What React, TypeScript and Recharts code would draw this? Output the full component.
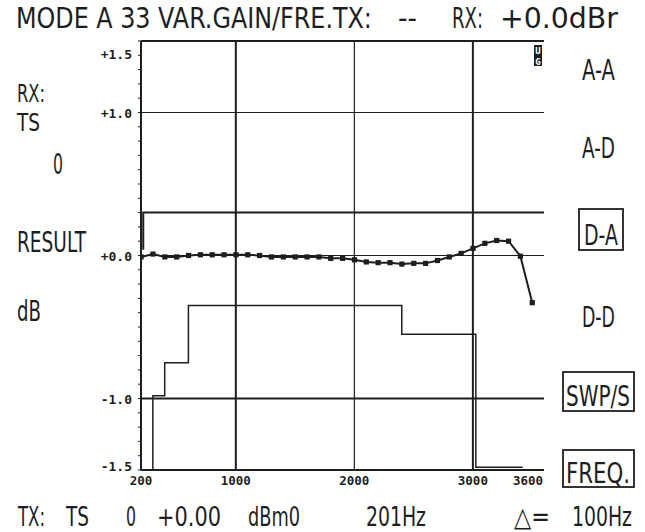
import React, { useLayoutEffect, useRef, useState } from 'react';
import { LineChart, Line, XAxis, YAxis, ReferenceLine } from 'recharts';

// ---- data ----
const FREQ_HZ = [201, 301, 401, 501, 601, 701, 801, 901, 1001, 1101, 1201, 1301, 1401, 1501, 1601, 1701, 1801, 1901, 2001, 2101, 2201, 2301, 2401, 2501, 2601, 2701, 2801, 2901, 3001, 3101, 3201, 3301, 3401, 3501];
const GAIN_DB = [-0.01, 0.01, -0.01, -0.01, 0.0, 0.005, 0.005, 0.005, 0.005, 0.005, 0.0, -0.01, -0.01, -0.01, -0.01, -0.01, -0.02, -0.02, -0.03, -0.045, -0.05, -0.05, -0.06, -0.055, -0.055, -0.035, -0.01, 0.015, 0.05, 0.085, 0.105, 0.1, -0.005, -0.33];

const UPPER_HZ = [219, 219, 3600];
const UPPER_DB = [0.04, 0.3, 0.3];

const LOWER_HZ = [300, 300, 400, 400, 600, 600, 2400, 2400, 3025, 3025, 3420];
const LOWER_DB = [-1.5, -0.98, -0.98, -0.75, -0.75, -0.35, -0.35, -0.55, -0.55, -1.48, -1.48];

const X_TICKS = [200, 1000, 2000, 3000, 3600];
const X_TICK_LABELS = ['200', '1000', '2000', '3000', '3600'];
const Y_TICKS = [1.5, 1.0, 0.0, -1.0, -1.5];
const Y_TICK_LABELS = ['+1.5', '+1.0', '+0.0', '-1.0', '-1.5'];
const Y_MINOR = [-1.5, -1.4, -1.3, -1.2, -1.1, -1.0, -0.9, -0.8, -0.7, -0.6, -0.5, -0.4, -0.3, -0.2, -0.1, 0.0, 0.1, 0.2, 0.3, 0.4, 0.5, 0.6, 0.7, 0.8, 0.9, 1.0, 1.1, 1.2, 1.3, 1.4, 1.5];
const X_GRID = [1000, 2000, 3000];
const X_GRID_W = [2, 1.2, 2];
const Y_GRID = [1.0, 0.0, -1.0];
const Y_GRID_W = [1.2, 1.2, 2];

const curveData = FREQ_HZ.map((f, i) => ({ f, v: GAIN_DB[i] }));
const upperData = UPPER_HZ.map((f, i) => ({ f, v: UPPER_DB[i] }));
const lowerData = LOWER_HZ.map((f, i) => ({ f, v: LOWER_DB[i] }));

const INK = '#1e1e1e';
const BIG_FONT = "'DejaVu Sans', 'Liberation Sans', sans-serif";
const MONO = "'DejaVu Sans Mono', 'Liberation Mono', monospace";

const XTick = (props: any) => {
  const { x, y, payload } = props;
  const idx = X_TICKS.indexOf(payload.value);
  const label = idx >= 0 ? X_TICK_LABELS[idx] : '';
  const last = payload.value === 3600;
  return (
    <text
      x={last ? x - 1 : x}
      y={y + 15}
      textAnchor={last ? 'end' : 'middle'}
      fontFamily={MONO}
      fontWeight="bold"
      fontSize={12.5}
      fill={INK}
    >
      {label}
    </text>
  );
};

const YTick = (props: any) => {
  const { y, payload } = props;
  const idx = Y_TICKS.indexOf(payload.value);
  if (idx < 0) return <g />;
  let cy = y;
  if (payload.value === 1.5) cy = y + 13;
  if (payload.value === -1.5) cy = y - 4;
  return (
    <text x={132} y={cy + 5} textAnchor="end" fontFamily={MONO} fontWeight="bold" fontSize={13} fill={INK}>
      {Y_TICK_LABELS[idx]}
    </text>
  );
};

const EmptyTick = () => <g />;

const SquareDot = (p: any) => (
  <rect key={`d${p.index}`} x={p.cx - 2.6} y={p.cy - 2.6} width={5.2} height={5.2} fill={INK} />
);

// Text drawn in a regular font, squeezed horizontally to the condensed look of the screen font
function FitText({ t, x, y, w, size }: { t: string; x: number; y: number; w: number; size: number }) {
  const ref = useRef<SVGTextElement>(null);
  const [sx, setSx] = useState(0.6);
  useLayoutEffect(() => {
    const el = ref.current;
    if (el) {
      const n = el.getComputedTextLength();
      if (n > 0) setSx(w / n);
    }
  }, [t, w, size]);
  return (
    <text
      ref={ref}
      transform={`translate(${x} ${y}) scale(${sx} 1)`}
      x={0}
      y={0}
      fontFamily={BIG_FONT}
      fontSize={size}
      fill={INK}
    >
      {t}
    </text>
  );
}

type T = { t: string; x: number; y: number; w: number; s: number };
const TEXTS: T[] = [
  { t: 'MODE A 33 VAR.GAIN/FRE.TX:', x: 16, y: 28, w: 356, s: 29 },
  { t: '--', x: 398, y: 28, w: 19, s: 29 },
  { t: 'RX:', x: 452, y: 28, w: 31, s: 29 },
  { t: '+0.0dBr', x: 500, y: 28, w: 118, s: 29 },
  { t: 'RX:', x: 17, y: 102, w: 28, s: 24 },
  { t: 'TS', x: 17, y: 131, w: 23, s: 24 },
  { t: '0', x: 53, y: 174, w: 10, s: 29 },
  { t: 'RESULT', x: 17, y: 252, w: 69, s: 29 },
  { t: 'dB', x: 17, y: 321, w: 24, s: 29 },
  { t: 'A-A', x: 582, y: 80, w: 33, s: 28 },
  { t: 'A-D', x: 582, y: 158, w: 33, s: 28 },
  { t: 'D-A', x: 584, y: 245, w: 34, s: 28 },
  { t: 'D-D', x: 582, y: 327, w: 33, s: 28 },
  { t: 'SWP/S', x: 566, y: 406, w: 64, s: 28 },
  { t: 'FREQ.', x: 566, y: 483, w: 64, s: 28 },
  { t: 'TX:', x: 18, y: 526, w: 27, s: 27 },
  { t: 'TS', x: 66, y: 526, w: 23, s: 27 },
  { t: '0', x: 126, y: 526, w: 10, s: 27 },
  { t: '+0.00', x: 157, y: 526, w: 64, s: 27 },
  { t: 'dBm0', x: 248, y: 526, w: 52, s: 27 },
  { t: '201Hz', x: 366, y: 526, w: 60, s: 27 },
  { t: '\u25B3=', x: 514, y: 526, w: 36, s: 27 },
  { t: '100Hz', x: 572, y: 526, w: 60, s: 27 },
];

const BOXES = [
  { x: 579, y: 209, w: 44, h: 41 },
  { x: 563, y: 372, w: 71, h: 39 },
  { x: 563, y: 450, w: 71, h: 37 },
];

export default function App() {
  return (
    <div style={{ position: 'absolute', left: 0, top: 0, width: 645, height: 532, background: '#fff' }}>
      <div style={{ position: 'absolute', left: 0, top: 0 }}>
        <LineChart width={645} height={532} margin={{ top: 41, right: 101, bottom: 42, left: 101 }}>
          <XAxis
            dataKey="f"
            type="number"
            domain={[200, 3600]}
            ticks={X_TICKS}
            allowDataOverflow
            xAxisId="x"
            height={20}
            tickLine={false}
            tickSize={0}
            tickMargin={0}
            axisLine={{ stroke: INK, strokeWidth: 2 }}
            tick={XTick}
          />
          <YAxis
            yAxisId="l"
            type="number"
            domain={[-1.5, 1.5]}
            ticks={Y_MINOR}
            interval={0}
            allowDataOverflow
            width={40}
            tickSize={3}
            tickMargin={0}
            tickLine={{ stroke: INK, strokeWidth: 1 }}
            axisLine={{ stroke: INK, strokeWidth: 2 }}
            tick={YTick}
          />
          <YAxis
            yAxisId="r"
            orientation="right"
            type="number"
            domain={[-1.5, 1.5]}
            ticks={Y_MINOR}
            interval={0}
            width={0}
            tickSize={3}
            tickLine={{ stroke: INK, strokeWidth: 1 }}
            axisLine={{ stroke: INK, strokeWidth: 2 }}
            tick={EmptyTick}
          />
          {X_GRID.map((g, i) => (
            <ReferenceLine key={`xg${g}`} x={g} xAxisId="x" yAxisId="l" stroke={INK} strokeWidth={X_GRID_W[i]} />
          ))}
          {Y_GRID.map((g, i) => (
            <ReferenceLine key={`yg${g}`} y={g} xAxisId="x" yAxisId="l" stroke={INK} strokeWidth={Y_GRID_W[i]} />
          ))}
          <ReferenceLine y={1.5} xAxisId="x" yAxisId="l" stroke={INK} strokeWidth={2} />
          <Line
            data={upperData}
            dataKey="v"
            xAxisId="x"
            yAxisId="l"
            type="linear"
            stroke={INK}
            strokeWidth={2}
            dot={false}
            activeDot={false}
            isAnimationActive={false}
          />
          <Line
            data={lowerData}
            dataKey="v"
            xAxisId="x"
            yAxisId="l"
            type="linear"
            stroke={INK}
            strokeWidth={1.5}
            dot={false}
            activeDot={false}
            isAnimationActive={false}
          />
          <Line
            data={curveData}
            dataKey="v"
            xAxisId="x"
            yAxisId="l"
            type="linear"
            stroke={INK}
            strokeWidth={2}
            dot={SquareDot}
            activeDot={false}
            isAnimationActive={false}
          />
        </LineChart>
      </div>
      <svg width={645} height={532} style={{ position: 'absolute', left: 0, top: 0, pointerEvents: 'none' }}>
        {TEXTS.map((t, i) => (
          <FitText key={i} t={t.t} x={t.x} y={t.y} w={t.w} size={t.s} />
        ))}
        {BOXES.map((b, i) => (
          <rect key={i} x={b.x} y={b.y} width={b.w} height={b.h} fill="none" stroke={INK} strokeWidth={1.8} />
        ))}
        <rect x={534} y={45} width={8} height={21} fill={INK} />
        <text x={538} y={54} textAnchor="middle" fontFamily={MONO} fontWeight="bold" fontSize={9} fill="#fff">U</text>
        <text x={538} y={64.5} textAnchor="middle" fontFamily={MONO} fontWeight="bold" fontSize={9} fill="#fff">G</text>
      </svg>
    </div>
  );
}
